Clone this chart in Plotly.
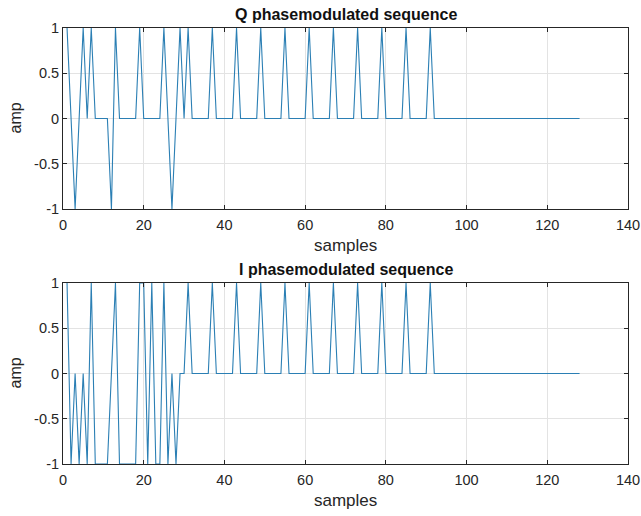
import plotly.graph_objects as go

samples = list(range(1, 129))

q_seq = [
    1, 0, -1, 0, 1, 0, 1, 0, 0, 0, 0, -1, 1, 0, 0, 0,
    0, 0, 1, 0, 0, 0, 0, 0, 1, 0, -1, 0, 1, 0, 1, 0,
    0, 0, 0, 0, 1, 0, 0, 0, 0, 0, 1, 0, 0, 0, 0, 0,
    1, 0, 0, 0, 0, 0, 1, 0, 0, 0, 0, 0, 1, 0, 0, 0,
    0, 0, 1, 0, 0, 0, 0, 0, 1, 0, 0, 0, 0, 0, 1, 0,
    0, 0, 0, 0, 1, 0, 0, 0, 0, 0, 1, 0, 0, 0, 0, 0,
    0, 0, 0, 0, 0, 0, 0, 0, 0, 0, 0, 0, 0, 0, 0, 0,
    0, 0, 0, 0, 0, 0, 0, 0, 0, 0, 0, 0, 0, 0, 0, 0,
]

i_seq = [
    1, -1, 0, -1, 0, -1, 1, -1, -1, -1, -1, 0, 1, -1, -1, -1,
    -1, -1, 1, 1, -1, 1, -1, -1, 1, -1, 0, -1, 0, 0, 1, 0,
    0, 0, 0, 0, 1, 0, 0, 0, 0, 0, 1, 0, 0, 0, 0, 0,
    1, 0, 0, 0, 0, 0, 1, 0, 0, 0, 0, 0, 1, 0, 0, 0,
    0, 0, 1, 0, 0, 0, 0, 0, 1, 0, 0, 0, 0, 0, 1, 0,
    0, 0, 0, 0, 1, 0, 0, 0, 0, 0, 1, 0, 0, 0, 0, 0,
    0, 0, 0, 0, 0, 0, 0, 0, 0, 0, 0, 0, 0, 0, 0, 0,
    0, 0, 0, 0, 0, 0, 0, 0, 0, 0, 0, 0, 0, 0, 0, 0,
]

titles = ["Q phasemodulated sequence", "I phasemodulated sequence"]
x_label = "samples"
y_label = "amp"
x_ticks = [0, 20, 40, 60, 80, 100, 120, 140]
y_ticks = [-1, -0.5, 0, 0.5, 1]
y_tick_text = ["-1", "-0.5", "0", "0.5", "1"]

LINE = "#2b7fb4"
AX = "#262626"
GRID = "#e3e3e3"
FONT = "Liberation Sans, Arial, sans-serif"

fig = go.Figure()
fig.add_trace(go.Scatter(x=samples, y=q_seq, mode="lines",
                         line=dict(color=LINE, width=1.1), xaxis="x", yaxis="y",
                         showlegend=False))
fig.add_trace(go.Scatter(x=samples, y=i_seq, mode="lines",
                         line=dict(color=LINE, width=1.1), xaxis="x2", yaxis="y2",
                         showlegend=False))

W, H = 641, 516
ml, mr, mt, mb = 63, 13, 28, 52
ph = H - mt - mb
top_dom = [(ph - 181) / ph, 1.0]
bot_dom = [0.0, 181 / ph]

def xax(anchor):
    return dict(range=[0, 140], tickvals=x_ticks, ticks="inside", ticklen=4,
                tickcolor=AX, showline=True, linecolor=AX, linewidth=1, mirror="ticks",
                showgrid=True, gridcolor=GRID, gridwidth=1, zeroline=False,
                automargin=False, ticklabelstandoff=3,
                tickfont=dict(family=FONT, size=14.5, color=AX), anchor=anchor)

def yax(anchor, dom):
    return dict(range=[-1, 1], tickvals=y_ticks, ticktext=y_tick_text, ticks="inside",
                ticklen=4, tickcolor=AX, showline=True, linecolor=AX, linewidth=1,
                mirror="ticks", showgrid=True, gridcolor=GRID, gridwidth=1,
                zeroline=False, automargin=False,
                tickfont=dict(family=FONT, size=14.5, color=AX),
                anchor=anchor, domain=dom)

fig.update_layout(
    width=W, height=H,
    margin=dict(l=ml, r=mr, t=mt, b=mb, autoexpand=False),
    paper_bgcolor="white", plot_bgcolor="white",
    xaxis=xax("y"), yaxis=yax("x", top_dom),
    xaxis2=xax("y2"), yaxis2=yax("x2", bot_dom),
)

ann = []
for dom, t in zip([top_dom, bot_dom], titles):
    ann.append(dict(text="<b>" + t + "</b>", x=0.5, xref="paper", y=dom[1], yref="paper",
                    xanchor="center", yanchor="bottom", yshift=3, showarrow=False,
                    font=dict(family=FONT, size=16, color="#111111")))
    ann.append(dict(text=x_label, x=0.5, xref="paper", y=dom[0], yref="paper",
                    xanchor="center", yanchor="middle", yshift=-36, showarrow=False,
                    font=dict(family=FONT, size=17, color=AX)))
    ann.append(dict(text=y_label, x=0, xref="paper", y=(dom[0] + dom[1]) / 2, yref="paper",
                    xanchor="center", yanchor="middle", xshift=-48, textangle=-90,
                    showarrow=False, font=dict(family=FONT, size=16, color=AX)))
fig.update_layout(annotations=ann)

fig.write_html("out.html")
